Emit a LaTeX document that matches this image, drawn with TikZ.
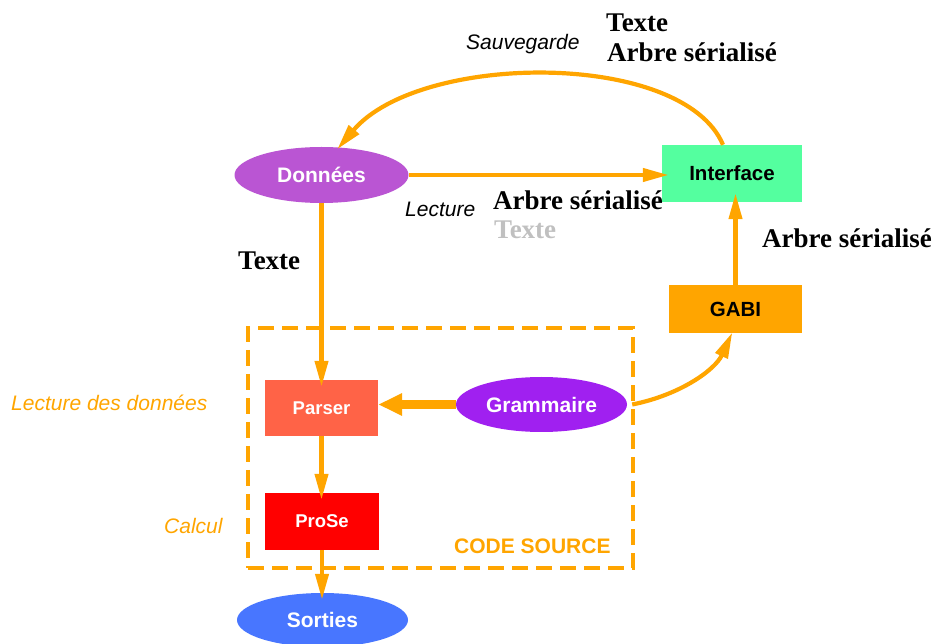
\documentclass[tikz,border=0pt]{standalone}
\usepackage{fontspec}
\setmainfont{Liberation Serif}
\setsansfont{Liberation Sans}
\usetikzlibrary{arrows.meta,shapes.geometric}
\definecolor{arr}{HTML}{FFA500}
\definecolor{cdon}{HTML}{BA55D3}
\definecolor{cgram}{HTML}{A020F0}
\definecolor{csort}{HTML}{4876FF}
\definecolor{cint}{HTML}{54FF9F}
\definecolor{cpars}{HTML}{FF6347}
\definecolor{cpros}{HTML}{FF0000}
\definecolor{cgray}{HTML}{C0C0C0}
\tikzset{
  ell/.style={ellipse, inner sep=0pt, text=white, font=\sffamily\bfseries\fontsize{21}{24}\selectfont},
  boxn/.style={rectangle, inner sep=0pt},
  conn/.style={draw=arr, line width=4.2pt, shorten >=-7pt, -{Triangle[length=26pt,width=13pt]}},
  thickconn/.style={draw=arr, line width=9pt, -{Triangle[length=24pt,width=21pt]}},
  serlab/.style={anchor=base west, inner sep=0pt, font=\rmfamily\bfseries\fontsize{27}{30}\selectfont},
  itlab/.style={anchor=base west, inner sep=0pt, font=\sffamily\itshape\fontsize{21}{24}\selectfont},
}
\begin{document}
\begin{tikzpicture}[x=1pt,y=-1pt]
\useasboundingbox (0,0) rectangle (938,644);
% frame
\node[draw=arr, line width=4.2pt, dash pattern=on 16pt off 8pt, rectangle, inner sep=0pt,
      minimum width=385pt, minimum height=240pt] (code) at (440.5,448) {};
\node[anchor=base west, inner sep=0pt, text=arr, font=\sffamily\bfseries\fontsize{21}{24}\selectfont] (codelab) at (454,553) {CODE SOURCE};
% nodes
\node[ell, fill=cdon, minimum width=174pt, minimum height=56pt] (don) at (321.5,175) {Données};
\node[boxn, fill=cint, minimum width=140pt, minimum height=57pt, font=\sffamily\bfseries\fontsize{20.5}{24}\selectfont] (int) at (732,173.5) {Interface};
\node[boxn, fill=arr, minimum width=133pt, minimum height=48pt, font=\sffamily\bfseries\fontsize{20.5}{24}\selectfont] (gabi) at (735.5,309) {GABI};
\node[boxn, fill=cpars, text=white, minimum width=113pt, minimum height=56pt, font=\sffamily\bfseries\fontsize{18.5}{22}\selectfont] (pars) at (321.5,408) {Parser};
\node[boxn, fill=cpros, text=white, minimum width=114pt, minimum height=57pt, font=\sffamily\bfseries\fontsize{18.5}{22}\selectfont] (pros) at (322,521.5) {ProSe};
\node[ell, fill=cgram, minimum width=171pt, minimum height=55pt] (gram) at (541.5,404.5) {Grammaire};
\node[ell, fill=csort, minimum width=171pt, minimum height=54pt] (sort) at (322.5,620) {Sorties};
% labels
\node[serlab] (t1) at (606,32) {Texte};
\node[serlab] (t2) at (607,62) {Arbre sérialisé};
\node[itlab] (sauv) at (466,50) {Sauvegarde};
\node[itlab] (lect) at (405,217) {Lecture};
\node[serlab] (t3) at (493,210) {Arbre sérialisé};
\node[serlab, text=cgray] (t4) at (494,239) {Texte};
\node[serlab] (t5) at (238,270) {Texte};
\node[serlab] (t6) at (762,248) {Arbre sérialisé};
\node[itlab, text=arr] (lecd) at (11,411) {Lecture des données};
\node[itlab, text=arr] (calc) at (164,533) {Calcul};
% connectors
\draw[conn] (don.east) -- (don.east -| int.west);
\draw[conn] (don.south) -- (don.south |- pars.north);
\draw[conn] (pars.south) -- (pars.south |- pros.north);
\draw[conn] (pros.south) -- (pros.south |- sort.north);
\draw[thickconn] (gram.west) -- (gram.west -| pars.east);
\draw[conn, shorten >=-2pt] ([xshift=5pt]gram.east) .. controls (680,395) and (715,370) .. ([xshift=-4pt,yshift=-1pt]gabi.south);
\draw[conn, shorten >=-9pt] (gabi.north) -- (gabi.north |- int.south);
\draw[conn, shorten >=-2pt] ([xshift=-9pt]int.north) .. controls (683,50) and (420,52) .. ([xshift=17pt,yshift=-1pt]don.north);
\end{tikzpicture}
\end{document}
